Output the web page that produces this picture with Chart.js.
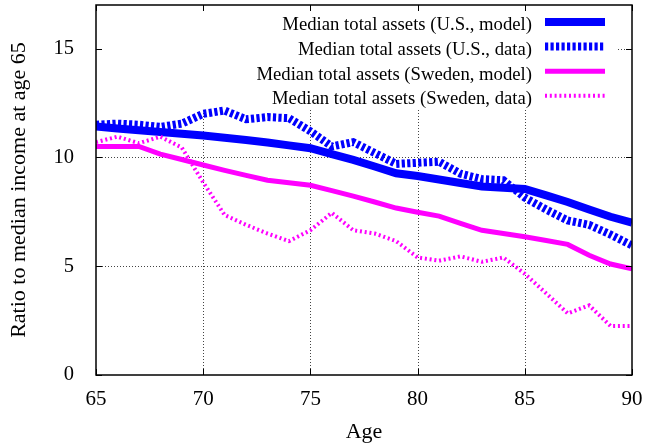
<!DOCTYPE html>
<html>
<head>
<meta charset="utf-8">
<script src="https://cdn.jsdelivr.net/npm/chart.js@4/dist/chart.umd.min.js"></script>
<style>
  html, body { margin: 0; padding: 0; background: #fff; }
</style>
</head>
<body>
<canvas id="assetsChart" width="646" height="446"></canvas>
<script>
// Ages on the x axis
const ages = [65, 66, 67, 68, 69, 70, 71, 72, 73, 74, 75, 76, 77, 78, 79, 80, 81, 82, 83, 84, 85, 86, 87, 88, 89, 90];

// Ratio of median total assets to median income at age 65
const usModel = [11.42, 11.33, 11.25, 11.17, 11.08, 11.0, 10.9, 10.8, 10.68, 10.55, 10.42, 10.15, 9.88, 9.58, 9.27, 9.14, 8.98, 8.82, 8.66, 8.6, 8.55, 8.25, 7.95, 7.6, 7.27, 7.0];
const usData = [11.5, 11.55, 11.5, 11.4, 11.55, 12.0, 12.15, 11.75, 11.85, 11.8, 11.2, 10.5, 10.7, 10.2, 9.7, 9.75, 9.8, 9.25, 9.0, 8.95, 8.15, 7.6, 7.1, 6.9, 6.45, 5.95];
const swedenModel = [10.5, 10.5, 10.5, 10.15, 9.9, 9.65, 9.4, 9.17, 8.95, 8.83, 8.72, 8.47, 8.22, 7.95, 7.67, 7.48, 7.3, 6.97, 6.65, 6.5, 6.35, 6.18, 6.0, 5.5, 5.1, 4.88];
const swedenData = [10.7, 10.95, 10.65, 10.95, 10.45, 8.85, 7.35, 6.9, 6.5, 6.15, 6.65, 7.45, 6.65, 6.5, 6.15, 5.4, 5.25, 5.45, 5.2, 5.4, 4.65, 3.75, 2.83, 3.2, 2.25, 2.25];

const xTicks = [65, 70, 75, 80, 85, 90];
const yTicks = [0, 5, 10, 15];

const serif = "'Liberation Serif', 'DejaVu Serif', serif";
const toPoints = (vals) => ages.map((a, i) => ({ x: a, y: vals[i] }));

// gnuplot style frame: dotted grid, opaque key box, inward ticks, key at top right
const frame = {
  id: "frame",
  beforeDatasetsDraw(chart) {
    const { ctx, chartArea: a, scales: { x, y } } = chart;
    ctx.save();
    ctx.strokeStyle = "#444";
    ctx.lineWidth = 1;
    ctx.setLineDash([1, 2]);
    ctx.beginPath();
    xTicks.slice(1, -1).forEach((v) => {
      const px = Math.round(x.getPixelForValue(v)) + 0.5;
      ctx.moveTo(px, a.top);
      ctx.lineTo(px, a.bottom);
    });
    yTicks.slice(1).forEach((v) => {
      const py = Math.round(y.getPixelForValue(v)) + 0.5;
      ctx.moveTo(a.left, py);
      ctx.lineTo(a.right, py);
    });
    ctx.stroke();
    ctx.setLineDash([]);
    ctx.fillStyle = "#fff";
    ctx.fillRect(a.left + 1, a.top + 1, 615 - a.left, 108 - a.top);
    ctx.restore();
  },
  afterDatasetsDraw(chart) {
    const { ctx, chartArea: a, scales: { x, y } } = chart;
    ctx.save();
    ctx.strokeStyle = "#000";
    ctx.lineWidth = 1;
    ctx.beginPath();
    xTicks.forEach((v) => {
      const px = Math.round(x.getPixelForValue(v)) + 0.5;
      ctx.moveTo(px, a.bottom);
      ctx.lineTo(px, a.bottom - 6);
      ctx.moveTo(px, a.top);
      ctx.lineTo(px, a.top + 6);
    });
    yTicks.forEach((v) => {
      const py = Math.round(y.getPixelForValue(v)) + 0.5;
      ctx.moveTo(a.left, py);
      ctx.lineTo(a.left + 6, py);
      ctx.moveTo(a.right, py);
      ctx.lineTo(a.right - 6, py);
    });
    ctx.stroke();
    ctx.lineWidth = 1.5;
    ctx.strokeRect(a.left, a.top, a.right - a.left, a.bottom - a.top);

    // key
    ctx.font = "18.7px " + serif;
    ctx.textAlign = "right";
    ctx.textBaseline = "middle";
    chart.data.datasets.forEach((ds, i) => {
      const rowY = 22 + i * 24.6;
      ctx.fillStyle = "#000";
      ctx.fillText(ds.label, 532, rowY + 3.5);
      ctx.strokeStyle = ds.borderColor;
      ctx.lineWidth = ds.borderWidth;
      ctx.setLineDash(ds.borderDash || []);
      ctx.beginPath();
      ctx.moveTo(545, rowY);
      ctx.lineTo(605, rowY);
      ctx.stroke();
    });
    ctx.restore();
  },
};

Chart.defaults.color = "#000";
Chart.defaults.font.family = serif;

const ctx = document.getElementById("assetsChart").getContext("2d");
new Chart(ctx, {
  type: "line",
  data: {
    datasets: [
      {
        label: "Median total assets (U.S., model)",
        data: toPoints(usModel),
        borderColor: "#0000ff",
        borderWidth: 8,
        order: 4,
      },
      {
        label: "Median total assets (U.S., data)",
        data: toPoints(usData),
        borderColor: "#0000ff",
        borderWidth: 8,
        borderDash: [3.2, 2.3],
        order: 3,
      },
      {
        label: "Median total assets (Sweden, model)",
        data: toPoints(swedenModel),
        borderColor: "#ff00ff",
        borderWidth: 5,
        order: 2,
      },
      {
        label: "Median total assets (Sweden, data)",
        data: toPoints(swedenData),
        borderColor: "#ff00ff",
        borderWidth: 4,
        borderDash: [2, 2.8],
        order: 1,
      },
    ],
  },
  options: {
    responsive: false,
    animation: false,
    clip: 0,
    layout: { padding: { top: 5, right: 14, left: 0, bottom: 0 } },
    elements: {
      point: { radius: 0 },
      line: { tension: 0, fill: false, borderCapStyle: "butt" },
    },
    plugins: {
      legend: { display: false },
      tooltip: { enabled: false },
    },
    scales: {
      x: {
        type: "linear",
        min: 65,
        max: 90,
        grid: { display: false },
        border: { display: false },
        ticks: { stepSize: 5, padding: 4, font: { size: 21 } },
        title: { display: true, text: "Age", font: { size: 22 }, padding: { top: 0, bottom: 1 } },
        afterFit: (scale) => {
          scale.height = 71;
          scale.paddingLeft = 0;
          scale.paddingRight = 0;
        },
      },
      y: {
        min: 0,
        max: 17,
        grid: { display: false },
        border: { display: false },
        ticks: { stepSize: 5, padding: 14, font: { size: 20.5 } },
        afterBuildTicks: (scale) => {
          scale.ticks = scale.ticks.filter((t) => yTicks.includes(t.value));
        },
        title: {
          display: true,
          text: "Ratio to median income at age 65",
          font: { size: 22 },
          padding: { top: 6, bottom: 0 },
        },
        afterFit: (scale) => {
          scale.width = 96;
          scale.paddingTop = 0;
          scale.paddingBottom = 0;
        },
      },
    },
  },
  plugins: [frame],
});
</script>
</body>
</html>
